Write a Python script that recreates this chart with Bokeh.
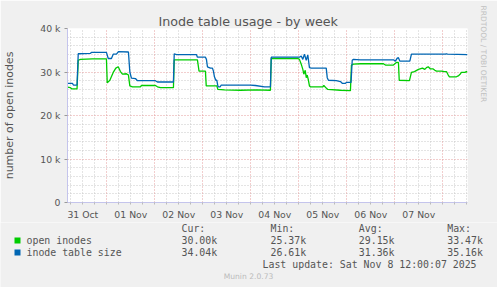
from bokeh.plotting import figure
from bokeh.layouts import column, row
from bokeh.models import Range1d, FixedTicker, Grid, ColumnDataSource, Title
from bokeh.core.properties import value
from bokeh.embed import file_html
from bokeh.resources import INLINE

# time axis: hours since 31 Oct 00:00
open_t = [4.3, 5.8, 6.6, 9.1, 9.7, 10.8, 16.8, 23.8, 24.2, 25.5, 27.2, 28.5, 29.7, 30.8, 31.8,
          33.8, 34.8, 35.5, 36.8, 40.8, 41.3, 48.3, 49.3, 50.8, 57.3, 57.7, 69.3, 70.1, 73.3,
          73.7, 79.0, 79.5, 82.8, 90.8, 98.8, 105.8, 106.2, 119.5, 120.3, 121.2, 122.0, 122.5,
          123.2, 123.7, 124.2, 124.8, 125.3, 125.8, 132.0, 132.5, 133.7, 134.5, 140.8, 145.8,
          146.3, 147.3, 150.8, 162.3, 163.3, 167.3, 168.8, 169.8, 170.2, 175.3, 176.3, 177.8,
          179.8, 181.8, 183.0, 183.8, 184.7, 185.8, 187.2, 188.0, 188.8, 191.3, 192.8, 193.8,
          194.7, 195.3, 198.8, 199.7, 200.5, 201.3, 203.0, 203.8, 204.3]
open_v = [26.5, 26.4, 26.1, 26.1, 32.7, 32.9, 33.0, 33.0, 27.5, 28.1, 29.9, 30.9, 31.2, 30.1, 29.5,
          29.6, 29.3, 26.8, 26.6, 26.6, 26.9, 26.9, 26.6, 26.4, 26.4, 32.8, 32.8, 30.2, 30.2,
          26.8, 26.8, 26.0, 25.9, 25.8, 25.9, 25.8, 33.1, 33.1, 32.9, 31.8, 30.6, 29.5,
          30.4, 28.7, 29.3, 28.1, 26.8, 26.6, 26.6, 26.9, 26.3, 26.0, 25.8, 25.7,
          31.6, 31.8, 31.9, 31.9, 31.6, 31.6, 32.2, 32.2, 28.1, 28.0, 29.9, 30.1,
          30.6, 30.9, 30.6, 31.0, 31.2, 30.7, 30.7, 30.4, 30.2, 30.2, 30.1, 30.1,
          29.3, 28.9, 28.9, 29.1, 29.4, 29.9, 29.9, 30.1, 30.0]

size_t = [4.3, 6.8, 7.3, 9.1, 9.7, 15.8, 16.3, 23.8, 24.7, 26.3, 27.2, 28.8, 29.8, 34.8, 35.5,
          36.3, 38.3, 39.3, 48.3, 49.3, 57.3, 57.7, 58.8, 68.8, 69.3, 73.3, 73.8, 74.3, 75.8,
          76.8, 77.3, 77.8, 78.5, 79.0, 79.5, 79.8, 80.7, 81.2, 95.8, 98.3, 102.8, 105.8,
          106.2, 120.3, 121.2, 122.0, 122.8, 123.7, 124.5, 125.3, 126.2, 133.7, 134.2, 134.8,
          138.7, 140.8, 141.7, 143.3, 143.8, 146.1, 146.7, 147.3, 150.8, 167.3, 168.3, 169.2,
          169.8, 170.5, 175.5, 176.3, 193.3, 193.8, 194.3, 204.3]
size_v = [27.4, 27.4, 27.0, 27.0, 34.2, 34.3, 34.5, 34.5, 33.1, 33.1, 34.1, 34.1, 34.7, 34.6, 30.0,
          28.6, 28.5, 28.0, 28.0, 27.7, 27.7, 34.2, 34.0, 34.0, 33.4, 33.4, 32.9, 31.2, 30.9,
          30.9, 30.2, 28.9, 28.1, 28.1, 26.8, 26.6, 26.6, 27.0, 27.0, 26.9, 26.6, 26.6,
          33.4, 33.4, 33.7, 32.9, 34.1, 32.7, 33.9, 31.0, 30.9, 30.9, 28.7, 28.1,
          28.0, 27.8, 27.4, 27.4, 27.6, 27.6, 32.7, 32.9, 32.8, 32.8, 32.5, 33.2,
          33.3, 32.5, 32.5, 34.1, 34.1, 34.2, 34.1, 34.0]

day_ticks = [12, 36, 60, 84, 108, 132, 156, 180]
day_labels = ["31 Oct", "01 Nov", "02 Nov", "03 Nov", "04 Nov", "05 Nov", "06 Nov", "07 Nov"]
midnights = [24, 48, 72, 96, 120, 144, 168, 192]
six_hours = [h for h in range(6, 205, 6) if h % 24 != 0]
y_ticks = [0, 10, 20, 30, 40]
y_labels = ["0", "10 k", "20 k", "30 k", "40 k"]
y_minor = [v for v in range(2, 40, 2) if v % 10 != 0]

series_names = ["open inodes", "inode table size"]
series_colors = ["#00CC00", "#0066B3"]
cur_vals = ["30.00k", "34.04k"]
min_vals = ["25.37k", "26.61k"]
avg_vals = ["29.15k", "31.36k"]
max_vals = ["33.47k", "35.16k"]
stat_heads = ["Cur:", "Min:", "Avg:", "Max:"]

TITLE = "Inode table usage - by week"
YLABEL = "number of open inodes"
LAST_UPDATE = "Last update: Sat Nov  8 12:00:07 2025"
VERSION = "Munin 2.0.73"
SIDE = "RRDTOOL / TOBI OETIKER"

X0, X1 = 4.3333, 204.3333
TXT = "#555555"
BG = "#F0F0F0"
FONT = "DejaVu Sans"
MONO = "DejaVu Sans Mono"

# ---------------- main chart ----------------
p = figure(width=497, height=222, output_backend="svg", toolbar_location=None,
           x_range=Range1d(X0, X1), y_range=Range1d(0, 40),
           min_border_left=67, min_border_right=30, min_border_top=28, min_border_bottom=19)
p.border_fill_color = BG
p.background_fill_color = "white"
p.outline_line_color = None
p.xgrid.visible = False
p.ygrid.visible = False

p.title.text = TITLE
p.title.align = "left"
p.title.offset = 91
p.title.standoff = 0
p.title.text_font = FONT
p.title.text_font_size = "12.7px"
p.title.text_font_style = "normal"
p.title.text_color = TXT

p.add_layout(Title(text=SIDE, align="left", offset=-23, vertical_align="top", standoff=19,
                   text_font=FONT, text_font_size="7.5px", text_font_style="normal",
                   text_color="#c0c0c0"), "right")

p.xaxis.ticker = FixedTicker(ticks=day_ticks, minor_ticks=list(range(6, 205, 6)))
p.xaxis.major_label_overrides = dict(zip(day_ticks, day_labels))
p.xaxis.major_tick_line_color = None
p.xaxis.major_tick_out = 0
p.xaxis.major_tick_in = 0
p.xaxis.minor_tick_in = 0
p.xaxis.minor_tick_out = 2
p.xaxis.minor_tick_line_color = "#bbbbbb"
p.xaxis.major_label_standoff = 4

p.yaxis.ticker = FixedTicker(ticks=y_ticks, minor_ticks=[])
p.yaxis.major_label_overrides = dict(zip(y_ticks, y_labels))
p.yaxis.major_tick_in = 0
p.yaxis.major_tick_out = 3
p.yaxis.major_tick_line_color = "#999999"
p.yaxis.major_label_standoff = 4
p.yaxis.axis_label = YLABEL
p.yaxis.axis_label_text_font = FONT
p.yaxis.axis_label_text_font_size = "11px"
p.yaxis.axis_label_text_font_style = "normal"
p.yaxis.axis_label_text_color = TXT
p.yaxis.axis_label_standoff = 21

for ax in (p.xaxis, p.yaxis):
    ax.axis_line_color = "#c4c4ec"
    ax.major_label_text_font = FONT
    ax.major_label_text_font_size = "9.3px"
    ax.major_label_text_color = TXT

def add_grid(dim, ticks, color):
    p.add_layout(Grid(dimension=dim, ticker=FixedTicker(ticks=ticks),
                      grid_line_color=color, grid_line_dash="1 2", grid_line_width=1))

add_grid(0, six_hours, "#c8c8c8")
add_grid(1, y_minor, "#c8c8c8")
add_grid(0, midnights, "#e49c9c")
add_grid(1, [10, 20, 30, 40], "#e49c9c")

p.line(open_t, open_v, line_color=series_colors[0], line_width=1.3)
p.line(size_t, size_v, line_color=series_colors[1], line_width=1.3)

# ---------------- legend / statistics ----------------
leg = figure(width=497, height=65, output_backend="svg", toolbar_location=None,
             x_range=Range1d(0, 497), y_range=Range1d(287, 222),
             x_axis_location=None, y_axis_location=None, min_border=0)
leg.border_fill_color = BG
leg.background_fill_color = BG
leg.outline_line_color = None
leg.grid.visible = False

col_x = [181, 270, 358.3, 446.7]
row_y = [240, 252]
tx, ty, tt = [], [], []
for cx, h in zip(col_x, stat_heads):
    tx.append(cx); ty.append(227.5); tt.append(h)
for i, ry in enumerate(row_y):
    tx.append(26); ty.append(ry); tt.append(series_names[i])
    for cx, vals in zip(col_x, [cur_vals, min_vals, avg_vals, max_vals]):
        tx.append(cx); ty.append(ry); tt.append(vals[i])
leg.text(x="x", y="y", text="t", source=ColumnDataSource(dict(x=tx, y=ty, t=tt)),
         text_font=value(MONO), text_font_size=value("9.9px"), text_color=TXT,
         text_baseline="middle", text_align="left")
leg.rect(x=[17, 17], y=row_y, width=6, height=6, fill_color=series_colors, line_color=None)
leg.text(x=[482], y=[263.5], text=[LAST_UPDATE], text_font=value(MONO),
         text_font_size=value("9.9px"), text_color=TXT, text_baseline="middle",
         text_align="right")
leg.text(x=[248], y=[276], text=[VERSION], text_font=value(FONT),
         text_font_size=value("7.6px"), text_color="#bbbbbb", text_baseline="middle",
         text_align="center")

# wrapping the chart in its own row keeps Bokeh from aligning the two frames
layout = column(row(p), leg)
open("out.html", "w").write(file_html(layout, INLINE))
